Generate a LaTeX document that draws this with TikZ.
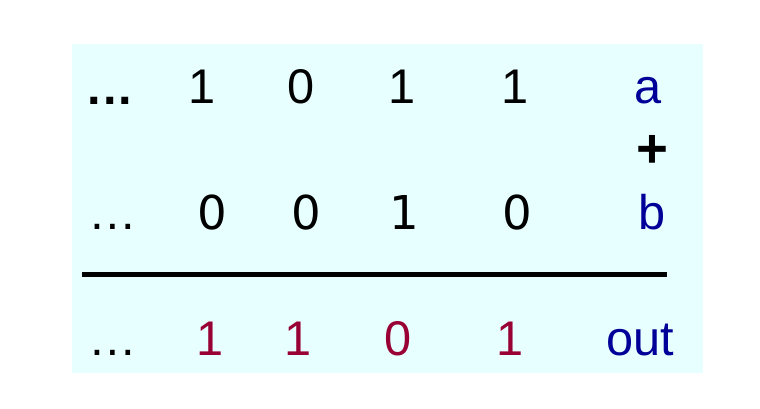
\documentclass[tikz,border=0pt]{standalone}
\usepackage{fontspec}
\setmainfont{Liberation Sans}
\newfontfamily\dejavu{DejaVu Sans}
\definecolor{sumbg}{HTML}{E8FFFF}
\definecolor{varblue}{HTML}{000099}
\definecolor{outred}{HTML}{990033}

\begin{document}
\begin{tikzpicture}[x=0.75pt,y=-0.75pt]
    \useasboundingbox (0,0) rectangle (760,408);
    \fill [sumbg] (72,44) rectangle (703,373);

    \begin{scope}[every node/.style={anchor=base,inner sep=0pt,
                  font=\fontsize{36.5}{40}\selectfont}]
        % operand a
        \node (dotsA) at (110,104) {\textbf{.\kern1.5pt.\kern1.5pt.}};
        \node (a3) at (202,103) {1};
        \node (a2) at (301,103) {0};
        \node (a1) at (402,103) {1};
        \node (a0) at (515,103) {1};
        \node [text=varblue] (a) at (648,103) {a};
        \node [font=\fontsize{41}{44}\selectfont] (plus) at (652,167) {\textbf{+}};
        % operand b
        \node (dotsB) at (113,229) {…};
        \node [font=\dejavu\fontsize{35}{40}\selectfont] (b3) at (212,229) {0};
        \node [font=\dejavu\fontsize{35}{40}\selectfont] (b2) at (306,229) {0};
        \node [font=\dejavu\fontsize{35}{40}\selectfont] (b1) at (404,229) {1};
        \node [font=\dejavu\fontsize{35}{40}\selectfont] (b0) at (517,229) {0};
        \node [text=varblue] (b) at (652,229) {b};
        % result
        \node (dotsO) at (113,355) {…};
        \node [text=outred] (o3) at (210,355) {1};
        \node [text=outred] (o2) at (298,355) {1};
        \node [text=outred] (o1) at (398,355) {0};
        \node [text=outred] (o0) at (510,355) {1};
        \node [text=varblue] (out) at (640,355) {out};
    \end{scope}

    \coordinate (lineL) at (82,274.5);
    \coordinate (lineR) at (667,274.5);
    \draw [line width=3.5pt] (lineL) -- (lineR);
\end{tikzpicture}
\end{document}
